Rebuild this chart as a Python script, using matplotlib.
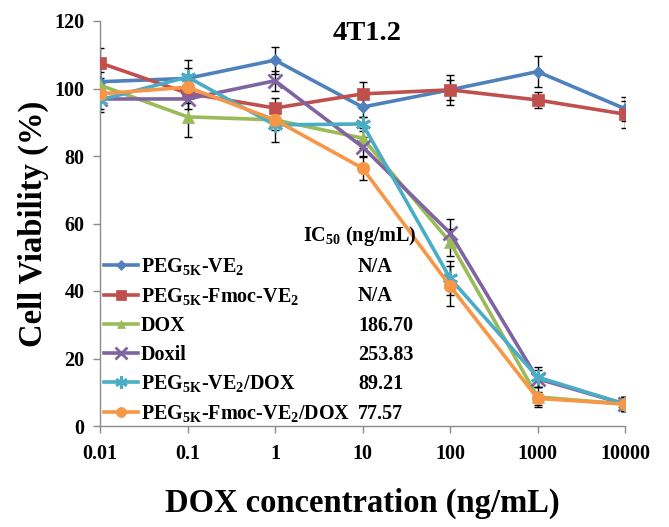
import matplotlib
matplotlib.use("Agg")
import matplotlib.pyplot as plt

plt.rcParams['font.family'] = ['Liberation Serif', 'DejaVu Serif']
plt.rcParams['font.weight'] = 'bold'
plt.rcParams['mathtext.fontset'] = 'custom'
plt.rcParams['mathtext.rm'] = 'Liberation Serif:bold'
plt.rcParams['mathtext.it'] = 'Liberation Serif:bold'
plt.rcParams['mathtext.bf'] = 'Liberation Serif:bold'

conc = [0.01, 0.1, 1, 10, 100, 1000, 10000]
xtick_labels = ['0.01', '0.1', '1', '10', '100', '1000', '10000']

series_names = [r'PEG$_{\rm 5K}$-VE$_{\rm 2}$',
                r'PEG$_{\rm 5K}$-Fmoc-VE$_{\rm 2}$',
                'DOX',
                'Doxil',
                r'PEG$_{\rm 5K}$-VE$_{\rm 2}$/DOX',
                r'PEG$_{\rm 5K}$-Fmoc-VE$_{\rm 2}$/DOX']
ic50 = ['N/A', 'N/A', '186.70', '253.83', '89.21', '77.57']

peg_ve2 = [102.0, 103.0, 108.4, 94.5, 99.6, 105.0, 94.0]
peg_fmoc_ve2 = [107.6, 98.6, 94.2, 98.4, 99.6, 96.6, 92.4]
dox = [101.0, 91.6, 90.7, 85.3, 54.5, 8.6, 6.5]
doxil = [96.9, 96.9, 102.3, 82.7, 57.2, 14.0, 6.5]
peg_ve2_dox = [96.6, 103.4, 89.2, 89.5, 43.8, 14.5, 6.5]
peg_fmoc_ve2_dox = [98.4, 100.4, 90.7, 76.4, 41.5, 8.2, 6.5]

err_peg_ve2 = [4, 3, 4, 3, 3, 4.5, 3.5]
err_peg_fmoc_ve2 = [4.5, 3, 3, 3.5, 4.5, 2.5, 4]
err_dox = [4, 6, 3, 3, 4, 3, 2]
err_doxil = [3, 3, 3, 3, 4, 2.5, 2]
err_peg_ve2_dox = [3.5, 5, 5, 2, 5, 3, 2]
err_peg_fmoc_ve2_dox = [2.5, 2, 2, 3.5, 6, 2, 2]

values = [peg_ve2, peg_fmoc_ve2, dox, doxil, peg_ve2_dox, peg_fmoc_ve2_dox]
errors = [err_peg_ve2, err_peg_fmoc_ve2, err_dox, err_doxil, err_peg_ve2_dox, err_peg_fmoc_ve2_dox]
colors = ['#4F81BD', '#C0504D', '#9BBB59', '#8064A2', '#4BACC6', '#F79646']
markers = ['D', 's', '^', 'x', (6, 2, 0), 'o']
msizes = [6, 9, 8, 10, 11, 9]

fig = plt.figure(figsize=(6.69, 5.27), dpi=100)
ax = fig.add_axes([100/669, 101/527, 525/669, 405/527])

handles = []
for v, e, c, m, ms in zip(values, errors, colors, markers, msizes):
    ax.errorbar(conc, v, yerr=e, fmt='none', ecolor='black', elinewidth=1.0,
                capsize=3, capthick=1.0, zorder=2)
    mew = 2.0 if m in ('x', (6, 2, 0)) else 0.5
    ln, = ax.plot(conc, v, color=c, lw=2.6, marker=m, ms=ms, mfc=c, mec=c,
                  mew=mew, zorder=3)
    handles.append(ln)

ax.set_xscale('log')
ax.set_xlim(0.01, 10000)
ax.set_ylim(0, 120)
ax.set_xticks(conc)
ax.set_xticklabels(xtick_labels)
ax.minorticks_off()
ax.set_yticks(range(0, 121, 20))
for s in ['top', 'right']:
    ax.spines[s].set_visible(False)
for s in ['left', 'bottom']:
    ax.spines[s].set_color('#8c8c8c')
    ax.spines[s].set_linewidth(1.0)
ax.tick_params(axis='both', colors='#8c8c8c', length=5, width=1.0,
               labelcolor='black', labelsize=14.5)
ax.tick_params(axis='x', pad=8)
ax.tick_params(axis='y', pad=6)
for lab in ax.get_xticklabels() + ax.get_yticklabels():
    lab.set_fontweight('bold')

ax.set_xlabel('DOX concentration (ng/mL)', fontsize=23.5, fontweight='bold', labelpad=17)
ax.set_ylabel('Cell Viability (%)', fontsize=23.5, fontweight='bold', labelpad=4)

fig.text(367/669, 1 - 33/527, '4T1.2', fontsize=20.5, fontweight='bold',
         ha='center', va='center')

leg = ax.legend(handles, series_names, loc='upper left',
                bbox_to_anchor=(104/669, 1 - 256/527), bbox_transform=fig.transFigure,
                frameon=False, fontsize=14.5, handlelength=1.7, handletextpad=0.12,
                labelspacing=0.44, borderpad=0, borderaxespad=0, markerscale=0.8)

fig.text(303/669, 1 - 236/527, r'IC$_{\rm 50}$ (ng/mL)', fontsize=14.5,
         fontweight='bold', ha='left', va='center')

fig.canvas.draw()
renderer = fig.canvas.get_renderer()
for txt, val in zip(leg.get_texts(), ic50):
    bb = txt.get_window_extent(renderer)
    yc = (bb.y0 + bb.y1) / 2
    x = max(358, bb.x1 + 5)
    fig.text(x / fig.bbox.width, yc / fig.bbox.height, val, fontsize=14.5,
             fontweight='bold', ha='left', va='center')

fig.savefig('out.png', dpi=100)
